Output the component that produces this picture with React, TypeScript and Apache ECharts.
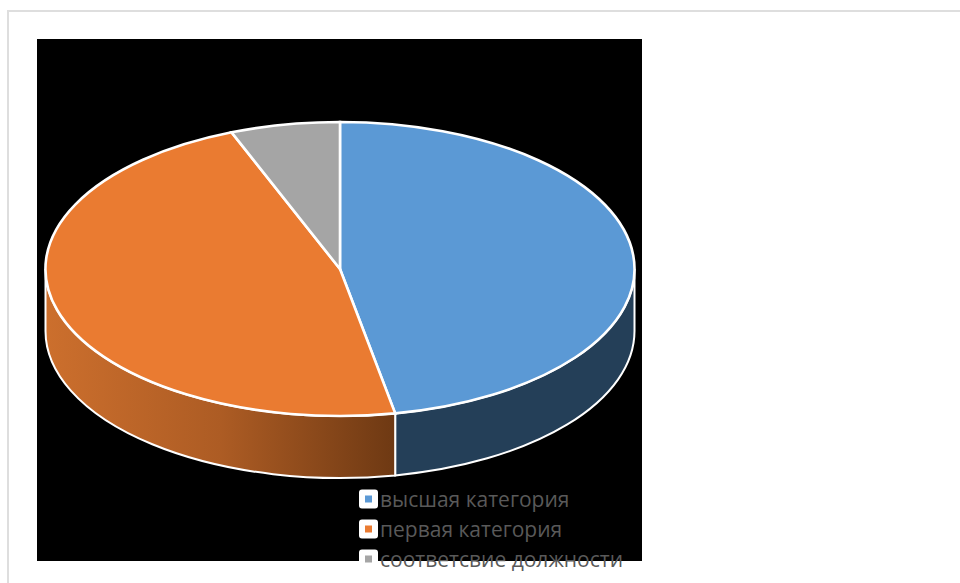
import React, { useEffect, useRef } from "react";
import * as echarts from "echarts";

const categories = ["высшая категория", "первая категория", "соответсвие должности"];
const values = [47, 47, 6];
const topColors = ["#5b99d5", "#ea7b31", "#a5a5a5"];

const CX = 340;
const CY = 269;
const RX = 294.5;
const RY = 147;
const DEPTH = 62;

const total = values.reduce((a, b) => a + b, 0);
const pt = (deg: number, dy = 0) => {
  const r = (deg * Math.PI) / 180;
  return [CX + RX * Math.sin(r), CY - RY * Math.cos(r) + dy];
};
const f = (p: number[]) => `${p[0].toFixed(2)} ${p[1].toFixed(2)}`;

const topPath = (a: number, b: number) => {
  const large = b - a > 180 ? 1 : 0;
  return `M${CX} ${CY}L${f(pt(a))}A${RX} ${RY} 0 ${large} 1 ${f(pt(b))}Z`;
};
const sidePath = (a: number, b: number) =>
  `M${f(pt(a))}A${RX} ${RY} 0 0 1 ${f(pt(b))}L${f(pt(b, DEPTH))}A${RX} ${RY} 0 0 0 ${f(pt(a, DEPTH))}Z`;

const sideFills: any[] = [
  "#243f58",
  {
    type: "linear",
    x: 0,
    y: 0,
    x2: 1,
    y2: 0,
    colorStops: [
      { offset: 0, color: "#cc6f2d" },
      { offset: 0.5, color: "#ad5c24" },
      { offset: 1, color: "#6e3913" },
    ],
  },
  "#000000",
];

const startOf = (i: number) =>
  (values.slice(0, i).reduce((a, b) => a + b, 0) / total) * 360;

const makeSeries = (name: string, i: number) => ({
  type: "custom",
  name,
  coordinateSystem: "none",
  silent: true,
  data: [[values[i]]],
  renderItem: (_p: any, api: any) => {
    const a = startOf(i);
    const b = a + (api.value(0) / total) * 360;
    const children: any[] = [];
    const sa = Math.max(a, 90);
    const sb = Math.min(b, 270);
    if (sb > sa) {
      children.push({
        type: "path",
        shape: { pathData: sidePath(sa, sb) },
        style: { fill: sideFills[i], stroke: "#ffffff", lineWidth: 2 },
      });
    }
    children.push({
      type: "path",
      shape: { pathData: topPath(a, b) },
      style: { fill: topColors[i], stroke: "#ffffff", lineWidth: 2.6 },
    });
    return { type: "group", children };
  },
});

export default function App() {
  const ref = useRef<HTMLDivElement>(null);
  useEffect(() => {
    document.body.style.margin = "0";
    const chart = echarts.init(ref.current!, undefined, { renderer: "svg" });
    chart.setOption({
      animation: false,
      backgroundColor: "#ffffff",
      graphic: [
        { type: "rect", z: -3, silent: true, shape: { x: 7, y: 10, width: 953, height: 2 }, style: { fill: "#dedede" } },
        { type: "rect", z: -3, silent: true, shape: { x: 7, y: 10, width: 2, height: 573 }, style: { fill: "#dedede" } },
        { type: "rect", z: -2, silent: true, shape: { x: 37, y: 39, width: 605, height: 522 }, style: { fill: "#000000" } },
      ],
      legend: {
        orient: "vertical",
        left: 359,
        top: 488,
        padding: 0,
        itemGap: 8,
        itemWidth: 13,
        itemHeight: 13,
        icon: "rect",
        data: categories.map((name, i) => ({
          name,
          itemStyle: { color: topColors[i], borderColor: "#ffffff", borderWidth: 6, borderJoin: "round" },
        })),
        textStyle: {
          color: "#595959",
          fontFamily: "Open Sans",
          fontSize: 21,
          lineHeight: 22,
        },
      },
      series: categories.map(makeSeries),
    });
    return () => chart.dispose();
  }, []);
  return <div ref={ref} style={{ width: 960, height: 583 }} />;
}
